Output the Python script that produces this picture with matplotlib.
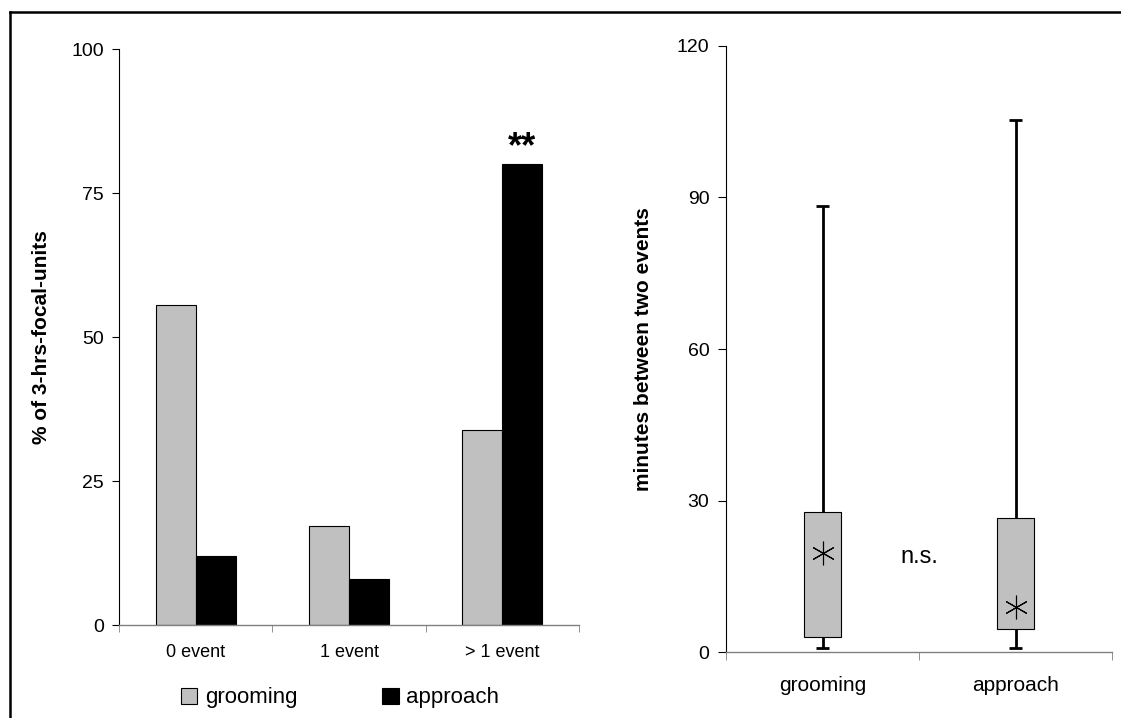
import numpy as np
import matplotlib
matplotlib.use("Agg")
import matplotlib.pyplot as plt
from matplotlib.lines import Line2D
from matplotlib.patches import Patch

plt.rcParams['font.family'] = ['Liberation Sans', 'DejaVu Sans']

# left panel: share of 3-hrs focal units by number of events
categories = ['0 event', '1 event', '> 1 event']
grooming_pct = [55.6, 17.2, 33.9]
approach_pct = [12.0, 7.9, 80.0]

# right panel: minutes between two events
groups = ['grooming', 'approach']
whisker_low = [0.9, 0.9]
box_low = [3.1, 4.7]
box_high = [27.7, 26.5]
whisker_high = [88.2, 105.3]
median_val = [19.7, 8.9]

gray = '#c0c0c0'
axis_gray = '#808080'

fig = plt.figure(figsize=(11.21, 7.18), dpi=100)

# ---- bar chart ----
ax1 = fig.add_axes([119/1121, 1-625/718, 460/1121, 576/718])
x = np.arange(len(categories))
w = 0.26
ax1.bar(x - w/2, grooming_pct, w, color=gray, edgecolor='black', linewidth=0.8)
ax1.bar(x + w/2, approach_pct, w, color='black', edgecolor='black', linewidth=0.8)
ax1.text(x[2] + w/2, approach_pct[2] + 2.8, '**', ha='center', va='center',
         fontsize=26, fontweight='bold')
ax1.set_xlim(-0.5, 2.5)
ax1.set_ylim(0, 100)
ax1.set_yticks([0, 25, 50, 75, 100])
ax1.set_xticks(x)
ax1.set_xticklabels(categories)
ax1.set_xticks(np.arange(-0.5, 3, 1), minor=True)
ax1.tick_params(axis='x', which='major', length=0, pad=14, labelsize=13)
ax1.tick_params(axis='x', which='minor', length=5, color=axis_gray, direction='out')
ax1.tick_params(axis='y', length=5, labelsize=14, pad=6)
ax1.set_ylabel('% of 3-hrs-focal-units', fontsize=15, fontweight='bold')
ax1.yaxis.set_label_coords(-0.147, 0.5)
for s in ['top', 'right']:
    ax1.spines[s].set_visible(False)
ax1.spines['bottom'].set_color(axis_gray)
ax1.spines['left'].set_linewidth(0.8)
ax1.spines['bottom'].set_linewidth(1.0)

handles = [Patch(facecolor=gray, edgecolor='black', linewidth=0.8, label='grooming'),
           Patch(facecolor='black', edgecolor='black', linewidth=0.8, label='approach')]
fig.legend(handles=handles, loc='center', bbox_to_anchor=(340/1121, 1-698/718),
           ncol=2, frameon=False, fontsize=16, handlelength=0.75, handleheight=0.75,
           handletextpad=0.35, columnspacing=3.8)

# ---- box chart ----
ax2 = fig.add_axes([726/1121, 1-652.3/718, 386/1121, 606.6/718])
pos = np.arange(1, len(groups) + 1)
bw = 0.19
cap = 0.035
for i, p in enumerate(pos):
    ax2.vlines(p, whisker_low[i], box_low[i], color='black', linewidth=2)
    ax2.vlines(p, box_high[i], whisker_high[i], color='black', linewidth=2)
    ax2.hlines([whisker_low[i], whisker_high[i]], p - cap, p + cap, color='black', linewidth=2)
ax2.bar(pos, np.subtract(box_high, box_low), bw, bottom=box_low, color=gray,
        edgecolor='black', linewidth=0.8, zorder=3)
ax2.plot(pos, median_val, linestyle='none', marker=(6, 2, 0), markersize=17,
         color='black', markeredgewidth=0.8, zorder=4)
ax2.text(1.5, 18.9, 'n.s.', ha='center', va='center', fontsize=17)
ax2.set_xlim(0.5, 2.5)
ax2.set_ylim(0, 120)
ax2.set_yticks([0, 30, 60, 90, 120])
ax2.set_xticks(pos)
ax2.set_xticklabels(groups)
ax2.set_xticks([0.5, 1.5, 2.5], minor=True)
ax2.tick_params(axis='x', which='major', length=0, pad=17, labelsize=15)
ax2.tick_params(axis='x', which='minor', length=6, color=axis_gray, direction='out')
ax2.tick_params(axis='y', length=6, labelsize=14, pad=6)
ax2.set_ylabel('minutes between two events', fontsize=15, fontweight='bold')
ax2.yaxis.set_label_coords(-0.19, 0.5)
for s in ['top', 'right']:
    ax2.spines[s].set_visible(False)
ax2.spines['bottom'].set_color(axis_gray)
ax2.spines['left'].set_linewidth(0.8)
ax2.spines['bottom'].set_linewidth(1.0)

# outer frame (left and top edges only)
fx, fy = 10/1121, 1 - 12/718
fig.add_artist(Line2D([fx, fx], [-0.01, fy], transform=fig.transFigure, color='black', linewidth=1.8))
fig.add_artist(Line2D([fx, 1.01], [fy, fy], transform=fig.transFigure, color='black', linewidth=1.8))

fig.savefig('out.png', dpi=100)
